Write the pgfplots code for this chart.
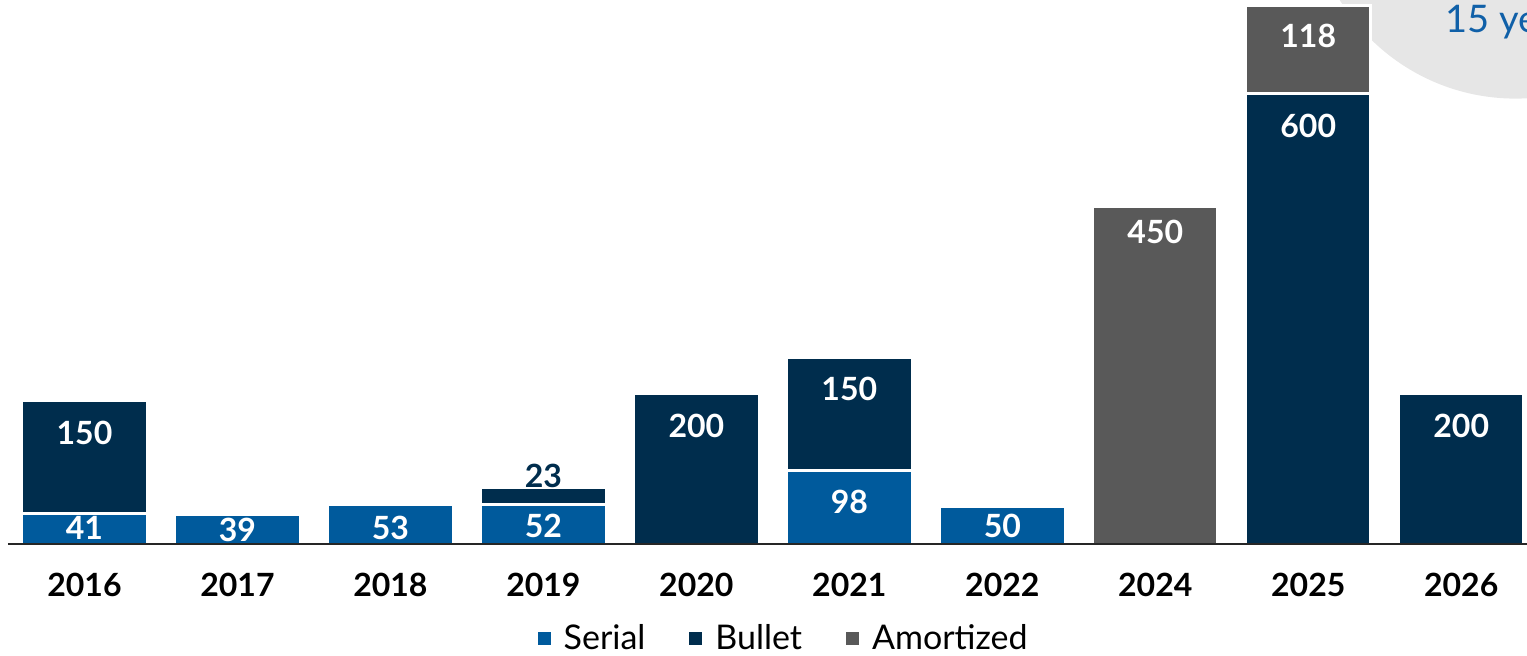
\documentclass[border=0pt]{standalone}
\usepackage{pgfplots}
\pgfplotsset{compat=1.18}
\usepackage{fontspec}
\setmainfont{Lato}
\definecolor{serial}{HTML}{005A9C}
\definecolor{bullet}{HTML}{002D4D}
\definecolor{amort}{HTML}{595959}
\definecolor{circ}{HTML}{E6E6E6}
\definecolor{txtblue}{HTML}{1060A8}
\tikzset{lbl/.style={text=white, font=\fontsize{16}{19}\selectfont\bfseries, inner sep=0pt}}
\begin{document}
\begin{tikzpicture}
\clip (0,0) rectangle (763.5pt,327.5pt);
\fill[circ] (757.75pt,381.2pt) circle (103pt);
\node[anchor=west, text=txtblue, font=\fontsize{19}{22}\selectfont, inner sep=0pt] at (722.5pt,316.5pt) {15 ye};
\begin{axis}[
  at={(4pt,55.5pt)}, anchor=south west, scale only axis,
  width=759.5pt, height=272pt,
  xmin=-0.5, xmax=9.43, ymin=0, ymax=724.7,
  ybar stacked, bar width=0.82,
  axis on top,
  axis x line=bottom, axis y line=none,
  x axis line style={-, line width=1pt, black!85},
  xtick={0,...,9},
  xticklabels={2016,2017,2018,2019,2020,2021,2022,2024,2025,2026},
  major tick length=0pt,
  xticklabel style={font=\fontsize{16}{19}\selectfont\bfseries, text=black, yshift=-11pt},
  clip=false,
  legend columns=3,
  legend style={at={(0.5113,-0.1745)}, anchor=center, draw=none, fill=none,
    font=\fontsize{17}{20}\selectfont,
    /tikz/every odd column/.append style={column sep=4.5pt},
    /tikz/every even column/.append style={column sep=20pt}},
  legend image code/.code={\path[#1,draw=none] (0pt,-3.25pt) rectangle (6.5pt,3.25pt);},
]
\addplot[fill=serial, draw=white, line width=1.5pt] coordinates {(0,41)(1,39)(2,53)(3,52)(4,0)(5,98)(6,50)(7,0)(8,0)(9,0)};
\addplot[fill=bullet, draw=white, line width=1.5pt] coordinates {(0,150)(1,0)(2,0)(3,23)(4,200)(5,150)(6,0)(7,0)(8,600)(9,200)};
\addplot[fill=amort, draw=white, line width=1.5pt] coordinates {(0,0)(1,0)(2,0)(3,0)(4,0)(5,0)(6,0)(7,450)(8,118)(9,0)};
\legend{Serial,Bullet,Amortized}
\coordinate (a1) at (axis cs:0,21.5);
\coordinate (a2) at (axis cs:0,147.9);
\coordinate (a3) at (axis cs:1,18.6);
\coordinate (a4) at (axis cs:2,21.3);
\coordinate (a5) at (axis cs:3,24);
\coordinate (a6) at (axis cs:3,90.6);
\coordinate (a7) at (axis cs:4,157.2);
\coordinate (a8) at (axis cs:5,56);
\coordinate (a9) at (axis cs:5,206.5);
\coordinate (a10) at (axis cs:6,24);
\coordinate (a11) at (axis cs:7,415.6);
\coordinate (a12) at (axis cs:8,556.8);
\coordinate (a13) at (axis cs:8,676.7);
\coordinate (a14) at (axis cs:9,157.2);
\end{axis}
\node[lbl] at (a1) {41};
\node[lbl] at (a2) {150};
\node[lbl] at (a3) {39};
\node[lbl] at (a4) {53};
\node[lbl] at (a5) {52};
\node[lbl, text=bullet] at (a6) {23};
\node[lbl] at (a7) {200};
\node[lbl] at (a8) {98};
\node[lbl] at (a9) {150};
\node[lbl] at (a10) {50};
\node[lbl] at (a11) {450};
\node[lbl] at (a12) {600};
\node[lbl] at (a13) {118};
\node[lbl] at (a14) {200};
\end{tikzpicture}
\end{document}
